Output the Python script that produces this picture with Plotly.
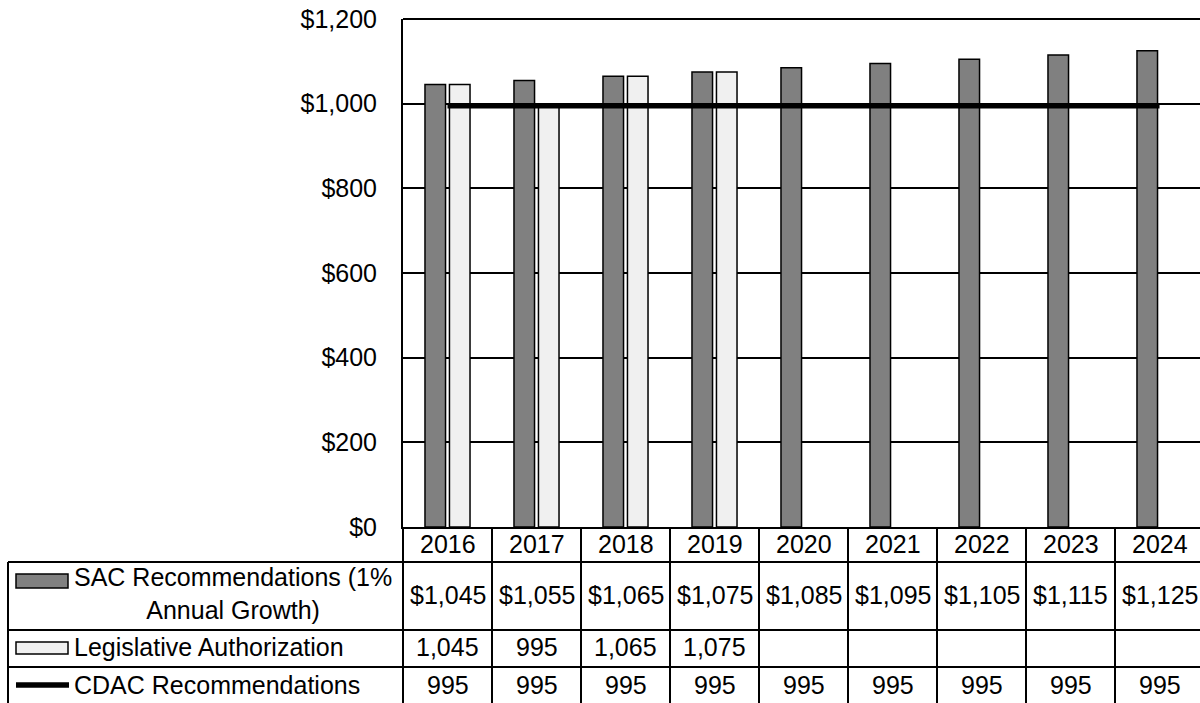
import plotly.graph_objects as go

# ---- data ----
years = ["2016", "2017", "2018", "2019", "2020", "2021", "2022", "2023", "2024"]
sac_values = [1045, 1055, 1065, 1075, 1085, 1095, 1105, 1115, 1125]
legislative_values = [1045, 995, 1065, 1075, None, None, None, None, None]
cdac_values = [995, 995, 995, 995, 995, 995, 995, 995, 995]
series_names = ["SAC Recommendations (1%<br>Annual Growth)",
                "Legislative Authorization",
                "CDAC Recommendations"]
y_ticks = [0, 200, 400, 600, 800, 1000, 1200]

# ---- layout geometry (pixels) ----
W, H = 1200, 703
PLOT_L, PLOT_T, PLOT_B = 403, 19, 527
PLOT_R = W
COL_W = 89.0
TABLE_L = 8
ROW_LINES = [562, 630, 667]          # horizontal rules of the data table
ROW_CENTERS = {"head": 544, "sac": 595, "leg": 647, "cdac": 685}

FONT = dict(family="Arial, Liberation Sans, sans-serif", size=25, color="black")
DARK = "#808080"
LIGHT = "#F0F0F0"
LINE_W = 2


def px_x(px):
    """pixel x -> paper x"""
    return (px - PLOT_L) / (PLOT_R - PLOT_L)


def px_y(py):
    """pixel y -> paper y"""
    return (PLOT_B - py) / (PLOT_B - PLOT_T)


fig = go.Figure()
fig.add_trace(go.Bar(x=years, y=sac_values, name="SAC",
                     marker=dict(color=DARK, line=dict(color="black", width=1.5))))
fig.add_trace(go.Bar(x=years, y=legislative_values, name="Legislative",
                     marker=dict(color=LIGHT, line=dict(color="black", width=1.5))))
fig.add_trace(go.Scatter(x=years, y=cdac_values, mode="lines", name="CDAC",
                         line=dict(color="black", width=5.5)))

x_max = -0.5 + (PLOT_R - PLOT_L) / COL_W

shapes = []
annotations = []

# top border of the plot area ($1,200 gridline)
shapes.append(dict(type="line", xref="paper", yref="paper", x0=0, x1=1.05, y0=1, y1=1,
                   line=dict(color="black", width=LINE_W)))

# table horizontal rules
for py in ROW_LINES:
    shapes.append(dict(type="line", xref="paper", yref="paper",
                       x0=px_x(TABLE_L), x1=1.05, y0=px_y(py), y1=px_y(py),
                       line=dict(color="black", width=LINE_W)))
# left border of the legend column
shapes.append(dict(type="line", xref="paper", yref="paper",
                   x0=px_x(TABLE_L), x1=px_x(TABLE_L), y0=px_y(ROW_LINES[0]), y1=px_y(H + 5),
                   line=dict(color="black", width=LINE_W)))
# left edge of the value columns continues below the axis
shapes.append(dict(type="line", xref="paper", yref="paper",
                   x0=0, x1=0, y0=0, y1=px_y(H + 5),
                   line=dict(color="black", width=LINE_W)))
# column separators
for i in range(1, len(years)):
    shapes.append(dict(type="line", xref="x", yref="paper",
                       x0=i - 0.5, x1=i - 0.5, y0=0, y1=px_y(H + 5),
                       line=dict(color="black", width=LINE_W)))

# legend keys
shapes.append(dict(type="rect", xref="paper", yref="paper",
                   x0=px_x(16), x1=px_x(68), y0=px_y(588), y1=px_y(574),
                   fillcolor=DARK, line=dict(color="black", width=1.5)))
shapes.append(dict(type="rect", xref="paper", yref="paper",
                   x0=px_x(16), x1=px_x(68), y0=px_y(654), y1=px_y(642),
                   fillcolor=LIGHT, line=dict(color="black", width=1.5)))
shapes.append(dict(type="line", xref="paper", yref="paper",
                   x0=px_x(16), x1=px_x(69), y0=px_y(685), y1=px_y(685),
                   line=dict(color="black", width=5.5)))

# legend labels
annotations.append(dict(xref="paper", yref="paper", x=px_x(233), y=px_y(593),
                        text=series_names[0], showarrow=False, xanchor="center",
                        yanchor="middle", align="center", font=FONT))
annotations.append(dict(xref="paper", yref="paper", x=px_x(72), y=px_y(ROW_CENTERS["leg"]),
                        text=series_names[1], showarrow=False, xanchor="left",
                        yanchor="middle", font=FONT))
annotations.append(dict(xref="paper", yref="paper", x=px_x(72), y=px_y(ROW_CENTERS["cdac"]),
                        text=series_names[2], showarrow=False, xanchor="left",
                        yanchor="middle", font=FONT))

# table cells
for i, yr in enumerate(years):
    annotations.append(dict(xref="x", yref="paper", x=i, y=px_y(ROW_CENTERS["head"]),
                            text=yr, showarrow=False, xanchor="center", yanchor="middle",
                            font=FONT))
    annotations.append(dict(xref="x", yref="paper", x=i, y=px_y(ROW_CENTERS["sac"]),
                            text=f"${sac_values[i]:,}", showarrow=False, xanchor="center",
                            yanchor="middle", font=FONT))
    if legislative_values[i] is not None:
        annotations.append(dict(xref="x", yref="paper", x=i, y=px_y(ROW_CENTERS["leg"]),
                                text=f"{legislative_values[i]:,}", showarrow=False,
                                xanchor="center", yanchor="middle", font=FONT))
    annotations.append(dict(xref="x", yref="paper", x=i, y=px_y(ROW_CENTERS["cdac"]),
                            text=f"{cdac_values[i]:,}", showarrow=False, xanchor="center",
                            yanchor="middle", font=FONT))

fig.update_layout(
    width=W, height=H,
    margin=dict(l=PLOT_L, r=W - PLOT_R, t=PLOT_T, b=H - PLOT_B, pad=0),
    paper_bgcolor="white", plot_bgcolor="white",
    barmode="group", bargap=0.45, bargroupgap=0.16,
    showlegend=False,
    font=FONT,
    xaxis=dict(type="category", range=[-0.5, x_max], showticklabels=False,
               showgrid=False, zeroline=False, showline=True, linecolor="black",
               linewidth=LINE_W, ticks=""),
    yaxis=dict(range=[0, 1200], tickvals=y_ticks,
               ticktext=[f"${v:,}" for v in y_ticks],
               showgrid=True, gridcolor="black", gridwidth=1.5,
               zeroline=False, showline=True, linecolor="black", linewidth=LINE_W,
               ticks="", ticklabelstandoff=19, tickfont=FONT),
    shapes=shapes,
    annotations=annotations,
)

fig.write_html("out.html")
